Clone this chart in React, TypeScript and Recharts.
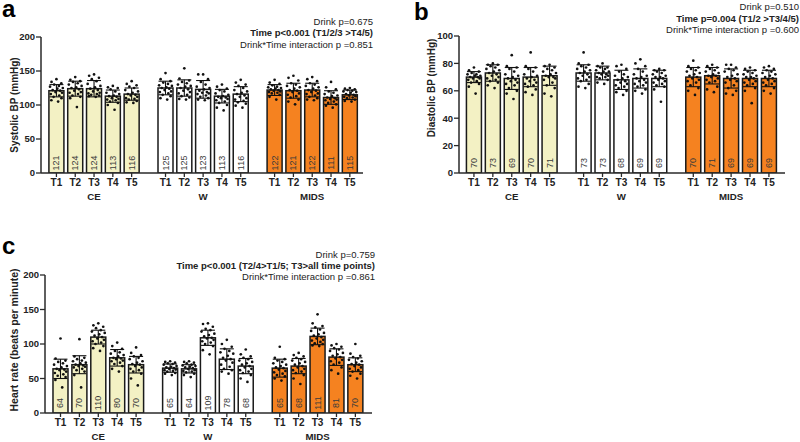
import React from 'react';
import { ComposedChart, Bar, Scatter, XAxis, YAxis, ErrorBar, LabelList } from 'recharts';

const FONT = '"Liberation Sans", Arial, Helvetica, sans-serif';

const groups = ['CE', 'W', 'MIDS'];
const timePoints = ['T1', 'T2', 'T3', 'T4', 'T5'];
const groupColors = ['#f3f1c4', '#ffffff', '#f58220'];

// ---------- Panel a: Systolic BP ----------
const sbpMeans = [
  [121, 124, 124, 113, 116],
  [125, 125, 123, 113, 116],
  [122, 121, 122, 111, 115],
];
const sbpSD = [
  [9, 11, 12, 9, 9],
  [10, 12, 13, 10, 11],
  [8, 11, 10, 10, 7],
];
const sbpCE = [
  [138, 134, 132, 130, 128, 127, 125, 124, 122, 121, 119, 118, 116, 114, 112, 110, 107, 105],
  [141, 137, 135, 134, 132, 130, 128, 126, 125, 123, 121, 119, 118, 116, 114, 112, 110, 97],
  [145, 143, 140, 138, 135, 131, 128, 126, 124, 122, 120, 118, 117, 116, 115, 114, 113, 112],
  [128, 126, 125, 123, 120, 118, 116, 114, 113, 112, 110, 109, 108, 107, 105, 103, 100, 93],
  [135, 131, 129, 127, 125, 122, 120, 118, 116, 115, 114, 112, 110, 109, 108, 106, 104, 103],
];
const sbpW = [
  [147, 138, 135, 133, 131, 129, 128, 126, 125, 124, 122, 120, 119, 117, 115, 113, 110, 108],
  [154, 139, 136, 134, 132, 130, 128, 127, 125, 123, 121, 119, 117, 115, 113, 111, 109, 108],
  [145, 145, 138, 134, 130, 127, 125, 123, 121, 119, 118, 117, 116, 114, 112, 110, 108, 107],
  [130, 127, 124, 122, 120, 117, 115, 113, 112, 111, 110, 109, 107, 105, 103, 100, 96, 92],
  [137, 133, 130, 128, 125, 122, 120, 118, 116, 114, 112, 110, 108, 106, 104, 102, 99, 96],
];
const sbpMIDS = [
  [137, 133, 131, 129, 127, 126, 125, 124, 123, 122, 121, 120, 119, 118, 117, 115, 112, 108],
  [143, 140, 136, 132, 130, 128, 126, 124, 122, 121, 119, 117, 115, 113, 111, 108, 105, 101],
  [141, 138, 135, 132, 130, 128, 126, 124, 122, 121, 119, 117, 116, 114, 112, 110, 108, 107],
  [134, 126, 123, 120, 118, 116, 114, 113, 111, 110, 109, 108, 107, 105, 103, 101, 99, 96],
  [125, 124, 123, 122, 121, 120, 119, 118, 116, 115, 114, 113, 112, 111, 110, 108, 106, 105],
];

// ---------- Panel b: Diastolic BP ----------
const dbpMeans = [
  [70, 73, 69, 70, 71],
  [73, 73, 68, 69, 69],
  [70, 71, 69, 69, 69],
];
const dbpSD = [
  [4, 6, 8, 7, 7],
  [6, 5, 7, 7, 6],
  [7, 6, 7, 6, 6],
];
const dbpCE = [
  [77, 75, 74, 73, 72, 72, 71, 71, 70, 70, 69, 69, 68, 67, 66, 65, 63, 58],
  [80, 79, 79, 78, 77, 76, 75, 74, 73, 72, 71, 70, 69, 68, 67, 66, 64, 62],
  [86, 78, 77, 76, 74, 72, 71, 70, 69, 68, 67, 66, 65, 64, 62, 60, 58, 54],
  [88, 78, 77, 76, 74, 72, 71, 70, 69, 68, 67, 66, 65, 64, 63, 61, 59, 57],
  [79, 78, 77, 76, 75, 74, 73, 72, 71, 70, 70, 69, 68, 66, 64, 62, 58, 56],
];
const dbpW = [
  [88, 80, 79, 78, 77, 76, 75, 74, 73, 72, 71, 70, 69, 68, 67, 65, 63, 62],
  [80, 78, 77, 77, 76, 75, 74, 74, 73, 72, 72, 71, 70, 70, 69, 68, 66, 65],
  [79, 78, 76, 74, 72, 71, 70, 69, 68, 67, 66, 65, 64, 63, 62, 60, 59, 57],
  [83, 80, 78, 76, 74, 72, 71, 70, 69, 68, 67, 66, 65, 64, 63, 61, 60, 58],
  [76, 75, 75, 74, 73, 72, 71, 70, 70, 69, 68, 67, 66, 65, 64, 63, 61, 52],
];
const dbpMIDS = [
  [82, 78, 77, 76, 75, 74, 73, 72, 71, 70, 69, 68, 67, 66, 64, 62, 60, 57],
  [79, 78, 77, 76, 75, 74, 73, 72, 71, 71, 70, 69, 68, 67, 66, 63, 61, 59],
  [79, 79, 77, 76, 75, 74, 72, 71, 70, 69, 68, 67, 66, 64, 62, 60, 58, 57],
  [77, 76, 75, 74, 73, 72, 71, 70, 70, 69, 68, 67, 66, 65, 64, 62, 60, 51],
  [78, 77, 76, 75, 74, 73, 72, 71, 70, 69, 68, 67, 66, 65, 64, 62, 60, 58],
];

// ---------- Panel c: Heart rate ----------
const hrMeans = [
  [64, 70, 110, 80, 70],
  [65, 64, 109, 78, 68],
  [65, 68, 111, 81, 70],
];
const hrSD = [
  [14, 13, 10, 12, 12],
  [6, 6, 11, 15, 11],
  [13, 11, 12, 12, 10],
];
const hrCE = [
  [108, 79, 76, 74, 72, 70, 68, 66, 64, 63, 62, 60, 58, 56, 54, 52, 48, 37],
  [107, 82, 80, 78, 76, 75, 73, 72, 70, 69, 68, 67, 66, 64, 62, 60, 55, 37],
  [130, 127, 125, 123, 120, 118, 116, 114, 112, 110, 108, 106, 104, 102, 100, 97, 94, 90],
  [102, 97, 93, 90, 88, 86, 84, 82, 80, 79, 78, 76, 75, 73, 71, 68, 64, 60],
  [95, 87, 84, 82, 80, 78, 75, 73, 71, 70, 68, 66, 64, 62, 60, 57, 50, 40],
];
const hrW = [
  [75, 74, 73, 72, 71, 70, 68, 67, 66, 65, 64, 63, 62, 61, 60, 58, 57, 55],
  [75, 74, 73, 72, 70, 69, 68, 67, 66, 65, 64, 62, 61, 60, 59, 57, 55, 52],
  [130, 129, 125, 122, 120, 118, 115, 113, 111, 109, 108, 106, 104, 102, 100, 97, 91, 85],
  [106, 100, 96, 93, 90, 88, 86, 83, 80, 78, 76, 73, 70, 67, 64, 62, 60, 57],
  [92, 85, 82, 80, 78, 76, 74, 72, 70, 68, 66, 64, 62, 60, 58, 55, 50, 45],
];
const hrMIDS = [
  [96, 80, 78, 76, 74, 72, 70, 68, 66, 65, 63, 61, 59, 57, 55, 53, 50, 47],
  [87, 84, 82, 80, 78, 76, 74, 72, 70, 68, 66, 64, 62, 60, 58, 55, 50, 42],
  [143, 130, 126, 124, 121, 119, 116, 114, 112, 110, 108, 106, 105, 103, 101, 100, 98, 97],
  [100, 98, 96, 94, 92, 90, 87, 85, 83, 81, 79, 77, 75, 73, 70, 66, 62, 57],
  [100, 86, 83, 81, 79, 77, 75, 73, 71, 70, 68, 66, 64, 62, 60, 57, 54, 50],
];

const sbpTicks = [0, 50, 100, 150, 200];
const dbpTicks = [0, 20, 40, 60, 80, 100];
const hrTicks = [0, 50, 100, 150, 200];

// ---------- layout helpers ----------
const GROUP_START = [0, 5.8, 11.6];
const JITTER = [0, -0.26, 0.26, -0.12, 0.13, -0.34, 0.34, 0.05, -0.2, 0.2, -0.05, 0.3, -0.3, 0.15, -0.15, 0.27, -0.27, 0.09];
const BAR_W = 15;

type BarRow = { x: number; mean: number; sd: number; gi: number; ti: number; label: string; group: string };

function buildBars(means: number[][], sds: number[][]): BarRow[] {
  const rows: BarRow[] = [];
  groups.forEach((g, gi) =>
    timePoints.forEach((t, ti) =>
      rows.push({ x: GROUP_START[gi] + ti, mean: means[gi][ti], sd: sds[gi][ti], gi, ti, label: t, group: g })
    )
  );
  return rows;
}

function buildPoints(sets: number[][][]) {
  const rows: { x: number; y: number }[] = [];
  sets.forEach((grp, gi) =>
    grp.forEach((vals, ti) =>
      vals.forEach((v, k) => rows.push({ x: GROUP_START[gi] + ti + JITTER[k % JITTER.length], y: v }))
    )
  );
  return rows;
}

const barShape = (props: any) => {
  const x = Number(props.x), y = Number(props.y), w = Number(props.width) || 0, h = Number(props.height);
  const cx = x + w / 2;
  const gi = props.payload ? props.payload.gi : 0;
  return (
    <rect x={cx - BAR_W / 2} y={y} width={BAR_W} height={h} fill={groupColors[gi]} stroke="#1a1a1a" strokeWidth={1.5} />
  );
};

const renderBarLabel = (props: any) => {
  const vb = props.viewBox || props;
  const x = Number(vb.x), y = Number(vb.y), width = Number(vb.width) || 0, height = Number(vb.height);
  const cx = x + width / 2;
  const cy = y + height - 10;
  return (
    <text
      x={cx}
      y={cy}
      transform={`rotate(-90 ${cx} ${cy})`}
      textAnchor="middle"
      dominantBaseline="central"
      fontSize={9}
      fontFamily={FONT}
      fill="#3a3a3a"
    >
      {props.value}
    </text>
  );
};

const makeTick = (bars: BarRow[]) => (props: any) => {
  const { x, y, payload } = props;
  const row = bars.find((b) => Math.abs(b.x - payload.value) < 1e-6);
  if (!row) return null;
  return (
    <g>
      <text x={x} y={y + 3} dy="0.35em" textAnchor="middle" fontSize={10} fontWeight="bold" fontFamily={FONT} fill="#222">
        {row.label}
      </text>
      {row.ti === 2 && (
        <text x={x} y={y + 18} dy="0.35em" textAnchor="middle" fontSize={9.7} fontWeight="bold" fontFamily={FONT} fill="#222">
          {row.group}
        </text>
      )}
    </g>
  );
};

const dot = (p: any) => <circle cx={p.cx} cy={p.cy} r={1.35} fill="#111" />;

type PanelProps = {
  left: number;
  top: number;
  width: number;
  height: number;
  marginTop: number;
  marginRight: number;
  yAxisWidth: number;
  xAxisHeight: number;
  xDomain: [number, number];
  yMax: number;
  yTicks: number[];
  means: number[][];
  sds: number[][];
  points: number[][][];
};

function Panel(p: PanelProps) {
  const bars = buildBars(p.means, p.sds);
  const pts = buildPoints(p.points);
  const xTicks = bars.map((b) => b.x);
  return (
    <div style={{ position: 'absolute', left: p.left, top: p.top, width: p.width, height: p.height }}>
      <ComposedChart
        width={p.width}
        height={p.height}
        data={bars}
        margin={{ top: p.marginTop, right: p.marginRight, bottom: 0, left: 0 }}
      >
        <XAxis
          type="number"
          dataKey="x"
          domain={p.xDomain}
          ticks={xTicks}
          interval={0}
          allowDataOverflow
          height={p.xAxisHeight}
          tick={makeTick(bars)}
          tickSize={4}
          tickMargin={2}
          axisLine={{ stroke: '#2a2a2a', strokeWidth: 1.5 }}
          tickLine={{ stroke: '#2a2a2a', strokeWidth: 1.3 }}
        />
        <YAxis
          type="number"
          domain={[0, p.yMax]}
          ticks={p.yTicks}
          interval={0}
          allowDataOverflow
          width={p.yAxisWidth}
          tickSize={5}
          tickMargin={1}
          tick={{ fontSize: 9.5, fontWeight: 'bold', fill: '#222', fontFamily: FONT }}
          axisLine={{ stroke: '#2a2a2a', strokeWidth: 1.5 }}
          tickLine={{ stroke: '#2a2a2a', strokeWidth: 1.3 }}
        />
        <Bar dataKey="mean" barSize={BAR_W} shape={barShape} isAnimationActive={false}>
          <ErrorBar dataKey="sd" width={7} stroke="#111" strokeWidth={1.1} direction="y" />
          <LabelList dataKey="mean" content={renderBarLabel} />
        </Bar>
        <Scatter data={pts} dataKey="y" shape={dot} isAnimationActive={false} />
      </ComposedChart>
    </div>
  );
}

const txt = { fontFamily: FONT, fill: '#222' } as const;

export default function App() {
  return (
    <div style={{ position: 'absolute', left: 0, top: 0, width: 800, height: 442, background: '#fff', overflow: 'hidden' }}>
      <Panel
        left={0}
        top={20}
        width={375}
        height={190}
        marginTop={17}
        marginRight={12}
        yAxisWidth={41}
        xAxisHeight={37}
        xDomain={[-0.82, 16.3]}
        yMax={200}
        yTicks={sbpTicks}
        means={sbpMeans}
        sds={sbpSD}
        points={[sbpCE, sbpW, sbpMIDS]}
      />
      <Panel
        left={400}
        top={16}
        width={395}
        height={194}
        marginTop={20}
        marginRight={10}
        yAxisWidth={59}
        xAxisHeight={37}
        xDomain={[-0.79, 16.45]}
        yMax={100}
        yTicks={dbpTicks}
        means={dbpMeans}
        sds={dbpSD}
        points={[dbpCE, dbpW, dbpMIDS]}
      />
      <Panel
        left={0}
        top={255}
        width={385}
        height={187}
        marginTop={20}
        marginRight={13}
        yAxisWidth={45}
        xAxisHeight={29}
        xDomain={[-0.82, 16.48]}
        yMax={200}
        yTicks={hrTicks}
        means={hrMeans}
        sds={hrSD}
        points={[hrCE, hrW, hrMIDS]}
      />
      <svg width={800} height={442} style={{ position: 'absolute', left: 0, top: 0, pointerEvents: 'none' }}>
        <text x={2} y={17} fontSize={24} fontWeight="bold" {...txt} fill="#000">a</text>
        <text x={414} y={20} fontSize={24} fontWeight="bold" {...txt} fill="#000">b</text>
        <text x={2} y={254} fontSize={24} fontWeight="bold" {...txt} fill="#000">c</text>

        <text x={373} y={25} fontSize={9.5} textAnchor="end" {...txt}>Drink p=0.675</text>
        <text x={373} y={36} fontSize={9.5} textAnchor="end" fontWeight="bold" {...txt}>Time p&lt;0.001 (T1/2/3 &gt;T4/5)</text>
        <text x={373} y={47.5} fontSize={9.5} textAnchor="end" {...txt}>Drink*Time interaction p =0.851</text>

        <text x={799} y={10} fontSize={9.5} textAnchor="end" {...txt}>Drink p=0.510</text>
        <text x={799} y={21.5} fontSize={9.5} textAnchor="end" fontWeight="bold" {...txt}>Time p=0.004 (T1/2 &gt;T3/4/5)</text>
        <text x={799} y={33} fontSize={9.5} textAnchor="end" {...txt}>Drink*Time interaction p =0.600</text>

        <text x={375} y={257.5} fontSize={9.5} textAnchor="end" {...txt}>Drink p=0.759</text>
        <text x={375} y={269} fontSize={9.5} textAnchor="end" fontWeight="bold" {...txt}>Time p&lt;0.001 (T2/4&gt;T1/5; T3&gt;all time points)</text>
        <text x={375} y={280} fontSize={9.5} textAnchor="end" {...txt}>Drink*Time interaction p =0.861</text>

        <text transform="translate(18,105) rotate(-90)" textAnchor="middle" fontSize={10} fontWeight="bold" {...txt}>Systolic BP (mmHg)</text>
        <text transform="translate(435,88) rotate(-90)" textAnchor="middle" fontSize={10} fontWeight="bold" {...txt}>Diastolic BP (mmHg)</text>
        <text transform="translate(18,340) rotate(-90)" textAnchor="middle" fontSize={10.5} fontWeight="bold" {...txt}>Heart rate (beats per minute)</text>
      </svg>
    </div>
  );
}
